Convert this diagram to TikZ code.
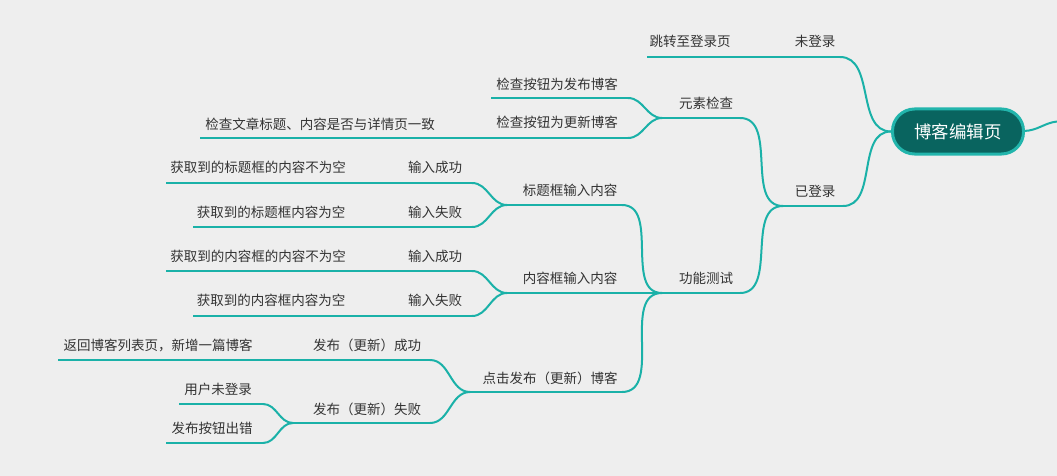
\documentclass[tikz,border=0pt]{standalone}
\usepackage{fontspec}
\newfontfamily\cjk{Noto Sans CJK SC}
\definecolor{bg}{HTML}{EEEEEE}
\definecolor{lineteal}{HTML}{1AB1A8}
\definecolor{rootfill}{HTML}{09645F}
\definecolor{rootedge}{HTML}{22B5AC}
\definecolor{txt}{HTML}{333333}
\tikzset{
  lab/.style={font=\cjk\fontsize{13.5}{16}\selectfont, text=txt, inner sep=0pt},
  br/.style={draw=lineteal, line width=2pt},
  rootbox/.style={draw=rootedge, line width=3pt, fill=rootfill, rounded corners=22pt,
    minimum width=131pt, minimum height=45pt, inner sep=0pt,
    font=\cjk\fontsize{17.4}{20}\selectfont, text=white}
}
% name, cx, cy, underline y, left x, right x, text
\newcommand\mmtopic[7]{%
  \node[lab] (#1) at (#2,#3) {#7};
  \coordinate (#1L) at (#5,#4);
  \coordinate (#1R) at (#6,#4);
  \draw[br] (#1L) -- (#1R);
}
% child, parent
\newcommand\mmlink[2]{\draw[br] (#1R) to[out=0,in=180] (#2L);}
\begin{document}
\begin{tikzpicture}[x=1pt,y=-1pt]
\fill[bg] (0,0) rectangle (1057,476);
\useasboundingbox (0,0) rectangle (1057,476);

% root
\coordinate (rootE) at (1024,131);
\coordinate (up) at (1057,121.5);
\draw[br] (958,131) -- (rootE) .. controls (1038,130.5) and (1044,123) .. (up);
\node[rootbox] (root) at (958,131.5) {博客编辑页};

% level 1
\mmtopic{nl}{815}{41}{57}{783}{840}{未登录}
\mmtopic{yl}{815}{191}{206}{783}{843}{已登录}
\draw[br] (nlR) to[out=0,in=180] (root.west);
\draw[br] (ylR) to[out=0,in=180] (root.west);

\mmtopic{tz}{690}{41}{57}{647}{783}{跳转至登录页}
\mmlink{tz}{nl}

% 已登录 children
\mmtopic{ys}{706}{103}{118}{662}{740}{元素检查}
\mmtopic{gn}{706}{278}{293}{662}{740}{功能测试}
\mmlink{ys}{yl}
\mmlink{gn}{yl}

% 元素检查 children
\mmtopic{jca}{557}{84}{98}{491}{628}{检查按钮为发布博客}
\mmtopic{jcb}{557}{122}{138}{491}{628}{检查按钮为更新博客}
\mmtopic{jcc}{320}{124}{138}{200}{491}{检查文章标题、内容是否与详情页一致}
\mmlink{jca}{ys}
\mmlink{jcb}{ys}
\mmlink{jcc}{jcb}

% 功能测试 children
\mmtopic{bt}{570}{190}{205}{507}{622}{标题框输入内容}
\mmtopic{nr}{570}{278}{293}{507}{622}{内容框输入内容}
\mmtopic{dj}{550}{378}{392}{470}{622}{点击发布（更新）博客}
\mmlink{bt}{gn}
\mmlink{nr}{gn}
\mmlink{dj}{gn}

% 标题框输入内容 children
\mmtopic{bta}{435}{167}{183}{398}{472}{输入成功}
\mmtopic{btac}{258}{167}{183}{166}{398}{获取到的标题框的内容不为空}
\mmtopic{btb}{435}{212}{227}{398}{472}{输入失败}
\mmtopic{btbc}{271}{212}{227}{193}{398}{获取到的标题框内容为空}
\mmlink{bta}{bt}
\mmlink{btb}{bt}
\mmlink{btac}{bta}
\mmlink{btbc}{btb}

% 内容框输入内容 children
\mmtopic{nra}{435}{256}{271}{398}{472}{输入成功}
\mmtopic{nrac}{258}{256}{271}{166}{398}{获取到的内容框的内容不为空}
\mmtopic{nrb}{435}{300}{316}{398}{472}{输入失败}
\mmtopic{nrbc}{271}{300}{316}{193}{398}{获取到的内容框内容为空}
\mmlink{nra}{nr}
\mmlink{nrb}{nr}
\mmlink{nrac}{nra}
\mmlink{nrbc}{nrb}

% 点击发布（更新）博客 children
\mmtopic{dja}{367}{345}{360}{303}{430}{发布（更新）成功}
\mmtopic{djac}{158}{345}{360}{58}{303}{返回博客列表页，新增一篇博客}
\mmtopic{djb}{367}{409}{423}{293}{430}{发布（更新）失败}
\mmtopic{fa}{218}{389}{404}{179}{263}{用户未登录}
\mmtopic{fb}{212}{428}{443}{166}{263}{发布按钮出错}
\mmlink{dja}{dj}
\mmlink{djb}{dj}
\mmlink{djac}{dja}
\mmlink{fa}{djb}
\mmlink{fb}{djb}
\end{tikzpicture}
\end{document}
